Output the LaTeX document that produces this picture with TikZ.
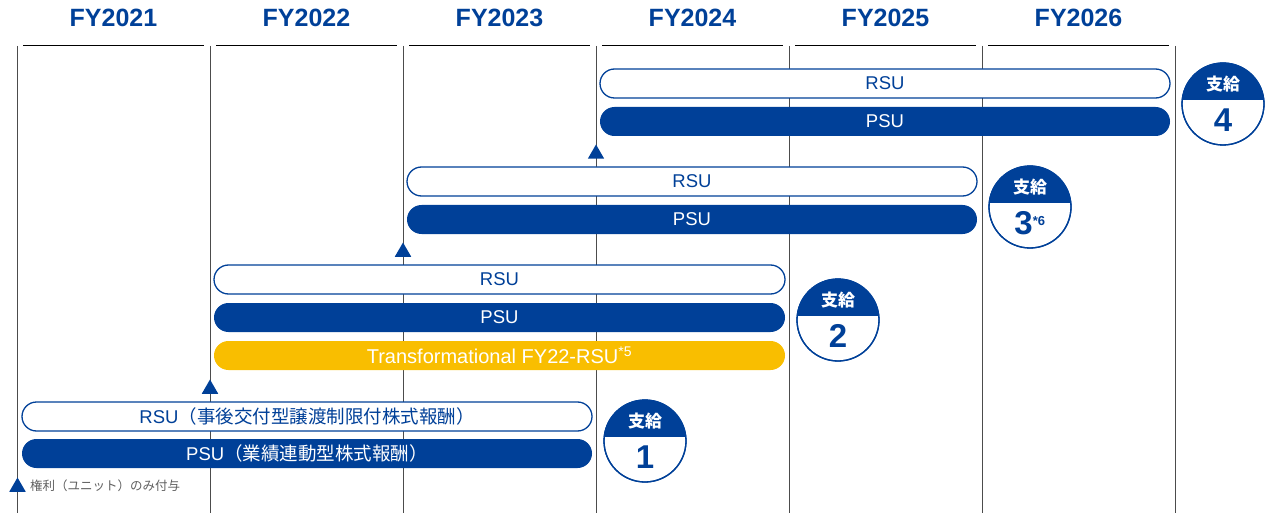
\documentclass[tikz,border=0pt]{standalone}
\usepackage{fontspec}
\setmainfont{Liberation Sans}
\newfontfamily\jp{Noto Sans CJK JP}
\usetikzlibrary{shapes.geometric,calc}
\definecolor{sblue}{RGB}{0,64,152}
\definecolor{syellow}{RGB}{249,190,0}
\definecolor{lgray}{RGB}{95,95,95}
\begin{document}
\begin{tikzpicture}[x=1pt,y=-1pt,
 bar/.style={rounded corners=14.5pt, minimum width=570pt, minimum height=29pt, inner sep=0pt, font=\fontsize{18.5}{18.5}\selectfont},
 rsubar/.style={bar, draw=sblue, line width=1.3pt, fill=white, text=sblue},
 psubar/.style={bar, fill=sblue, text=white},
 ybar/.style={bar, fill=syellow, text=white},
 marker/.style={regular polygon, regular polygon sides=3, fill=sblue, minimum size=19pt, inner sep=0pt},
 vline/.style={draw=black!70, line width=0.9pt},
 hline/.style={draw=black, line width=0.9pt},
 yr/.style={font=\fontsize{25}{25}\selectfont\bfseries, text=sblue},
 badge/.style={circle, draw=sblue, line width=1.3pt, fill=white, minimum size=82pt, inner sep=0pt},
 btop/.style={font=\jp\fontsize{17}{17}\selectfont\bfseries, text=white, inner sep=0pt},
 bnum/.style={font=\fontsize{33}{33}\selectfont\bfseries, text=sblue, inner sep=0pt},
]
\useasboundingbox (0,0) rectangle (1274,513);
% grid
\foreach \x in {17,210,403,596,789,982,1175} {
  \draw[vline] (\x,46) -- (\x,513);
}
\foreach \x in {17,210,403,596,789,982} {
  \draw[hline] (\x+6,45) -- (\x+187,45);
}
% headers
\node[yr] (fy21) at (113.5,18) {FY2021};
\node[yr] (fy22) at (306.5,18) {FY2022};
\node[yr] (fy23) at (499.5,18) {FY2023};
\node[yr] (fy24) at (692.5,18) {FY2024};
\node[yr] (fy25) at (885.5,18) {FY2025};
\node[yr] (fy26) at (1078.5,18) {FY2026};
% group 4
\node[rsubar] (r4) at (885,83.5) {RSU};
\node[psubar] (p4) at (885,121.5) {PSU};
\node[marker] (m4) at (596,154) {};
% group 3
\node[rsubar] (r3) at (692,181.5) {RSU};
\node[psubar] (p3) at (692,219.5) {PSU};
\node[marker] (m3) at (403,252) {};
% group 2
\node[rsubar, minimum width=571pt] (r2) at (499.5,279.5) {RSU};
\node[psubar, minimum width=571pt] (p2) at (499.5,317.5) {PSU};
\node[ybar, minimum width=571pt, font=\fontsize{20}{20}\selectfont] (y2) at (499.5,355.5) {Transformational FY22-RSU\textsuperscript{*5}};
\node[marker] (m1) at (210,389) {};
% group 1
\node[rsubar] (r1) at (307,416.5) {RSU{\jp（事後交付型譲渡制限付株式報酬）}};
\node[psubar] (p1) at (307,453.5) {PSU{\jp（業績連動型株式報酬）}};
% legend
\node[marker] (lm) at (17.5,487) {};
\node[anchor=west, inner sep=0pt, font=\jp\fontsize{12.5}{12.5}\selectfont, text=lgray] (lt) at (30,486) {権利（ユニット）のみ付与};
% badges
\foreach \n/\cx/\cy/\lab in {b4/1223/104/4, b3/1030/207/{3\textsuperscript{\fontsize{13}{13}\selectfont *6}}, b2/838/320/2, b1/645/441/1} {
  \node[badge] (\n) at (\cx,\cy) {};
  \begin{scope}
    \clip (\n.center) circle (41pt);
    \fill[sblue] ($(\n.center)+(-45,-45)$) rectangle ($(\n.center)+(45,-4)$);
  \end{scope}
  \draw[sblue, line width=1.3pt] (\n.center) circle (41pt);
  \node[btop] (\n t) at ($(\n.center)+(0,-20)$) {支給};
  \node[bnum] (\n n) at ($(\n.center)+(0,16)$) {\lab};
}
\end{tikzpicture}
\end{document}
